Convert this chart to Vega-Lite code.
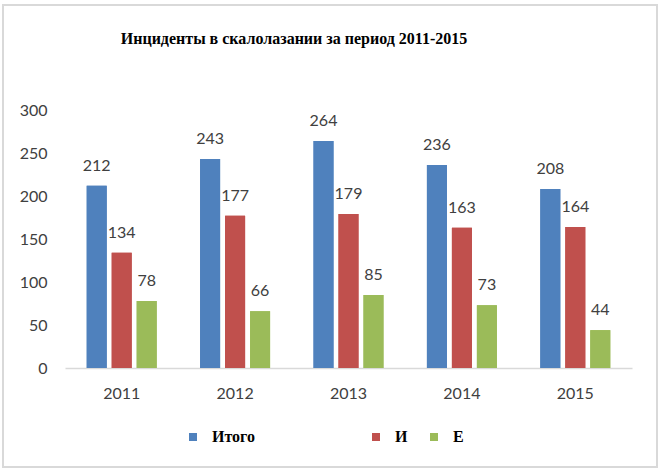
{
  "$schema": "https://vega.github.io/schema/vega-lite/v6.json",
  "width": 654,
  "height": 462,
  "autosize": {"type": "none"},
  "padding": {"left": 3, "top": 5, "right": 5, "bottom": 5},
  "background": "white",
  "title": {
    "text": "Инциденты в скалолазании за период 2011-2015",
    "font": "Liberation Serif, Times New Roman, serif",
    "fontSize": 16,
    "fontWeight": "bold",
    "color": "black",
    "anchor": "middle",
    "frame": "group",
    "baseline": "alphabetic",
    "offset": -55,
    "dx": -36
  },
  "data": {
    "values": [
      {"year": "2011", "series": "Итого", "value": 212},
      {"year": "2011", "series": "И", "value": 134},
      {"year": "2011", "series": "Е", "value": 78},
      {"year": "2012", "series": "Итого", "value": 243},
      {"year": "2012", "series": "И", "value": 177},
      {"year": "2012", "series": "Е", "value": 66},
      {"year": "2013", "series": "Итого", "value": 264},
      {"year": "2013", "series": "И", "value": 179},
      {"year": "2013", "series": "Е", "value": 85},
      {"year": "2014", "series": "Итого", "value": 236},
      {"year": "2014", "series": "И", "value": 163},
      {"year": "2014", "series": "Е", "value": 73},
      {"year": "2015", "series": "Итого", "value": 208},
      {"year": "2015", "series": "И", "value": 164},
      {"year": "2015", "series": "Е", "value": 44}
    ]
  },
  "encoding": {
    "x": {
      "field": "year",
      "type": "nominal",
      "scale": {"range": [62, 629], "paddingInner": 0.383, "paddingOuter": 0.1915},
      "axis": {
        "title": null,
        "offset": -99,
        "domainColor": "#d9d9d9",
        "domainWidth": 1.5,
        "ticks": false,
        "tickSize": 0,
        "labelPadding": 17,
        "labelAngle": 0,
        "labelFont": "Lato",
        "labelFontSize": 16,
        "labelColor": "#404040",
        "grid": false
      }
    },
    "xOffset": {
      "field": "series",
      "type": "nominal",
      "sort": ["Итого", "И", "Е"],
      "scale": {"paddingInner": 0.2, "paddingOuter": 0}
    },
    "y": {
      "field": "value",
      "type": "quantitative",
      "scale": {"domain": [0, 300], "range": [363, 105], "nice": false},
      "axis": {
        "title": null,
        "domain": false,
        "ticks": false,
        "tickSize": 0,
        "grid": false,
        "offset": -44,
        "labelPadding": 0,
        "values": [0, 50, 100, 150, 200, 250, 300],
        "labelFont": "Lato",
        "labelFontSize": 16,
        "labelColor": "#404040"
      }
    }
  },
  "layer": [
    {
      "mark": {"type": "bar"},
      "encoding": {
        "color": {
          "field": "series",
          "type": "nominal",
          "scale": {"domain": ["Итого", "И", "Е"], "range": ["#4F81BD", "#C0504D", "#9BBB59"]},
          "legend": {
            "orient": "none",
            "legendX": 182,
            "legendY": 424,
            "direction": "horizontal",
            "values": ["Итого"],
            "title": null,
            "symbolType": "square",
            "symbolSize": 64,
            "symbolStrokeWidth": 0,
            "labelFont": "Liberation Serif, Times New Roman, serif",
            "labelFontWeight": "bold",
            "labelFontSize": 16,
            "labelColor": "black",
            "labelOffset": 11,
            "padding": 0
          }
        }
      }
    },
    {
      "mark": {"type": "bar"},
      "encoding": {
        "fill": {
          "field": "series",
          "type": "nominal",
          "scale": {"domain": ["И", "Е", "Итого"], "range": ["#C0504D", "#9BBB59", "#4F81BD"]},
          "legend": {
            "orient": "none",
            "legendX": 365,
            "legendY": 424,
            "direction": "horizontal",
            "values": ["И", "Е"],
            "title": null,
            "symbolType": "square",
            "symbolSize": 64,
            "symbolStrokeWidth": 0,
            "labelFont": "Liberation Serif, Times New Roman, serif",
            "labelFontWeight": "bold",
            "labelFontSize": 16,
            "labelColor": "black",
            "labelOffset": 11,
            "columnPadding": 18,
            "padding": 0
          }
        }
      }
    },
    {
      "mark": {"type": "text", "baseline": "alphabetic", "dy": -15, "font": "Lato", "fontSize": 16, "color": "#404040"},
      "encoding": {"text": {"field": "value", "type": "quantitative"}}
    }
  ],
  "config": {"view": {"stroke": "#d9d9d9", "strokeWidth": 2}}
}
